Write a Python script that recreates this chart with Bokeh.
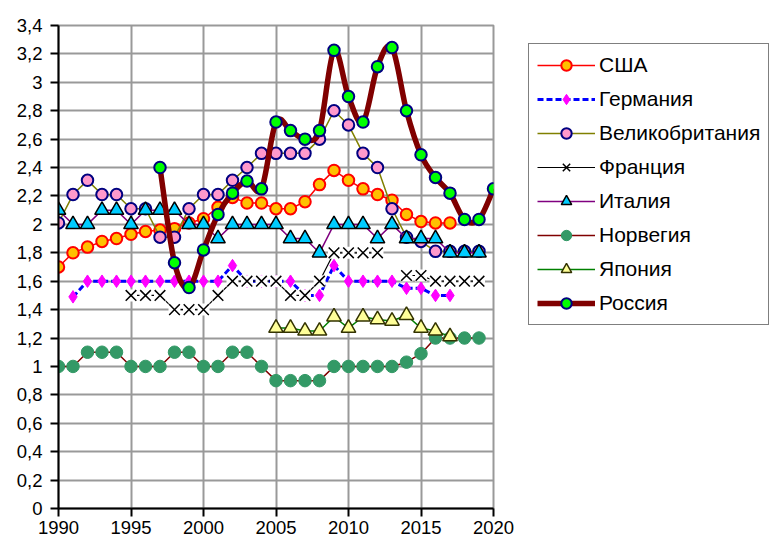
import numpy as np
from bokeh.plotting import figure
from bokeh.models import (Legend, LegendItem, FixedTicker, CustomJSTickFormatter,
                          Range1d, ColumnDataSource)
from bokeh.embed import file_html
from bokeh.resources import INLINE

nan = float("nan")

years = [1990, 1991, 1992, 1993, 1994, 1995, 1996, 1997, 1998, 1999,
         2000, 2001, 2002, 2003, 2004, 2005, 2006, 2007, 2008, 2009,
         2010, 2011, 2012, 2013, 2014, 2015, 2016, 2017, 2018, 2019, 2020]

x_ticks = [1990, 1995, 2000, 2005, 2010, 2015, 2020]
y_ticks = [0, 0.2, 0.4, 0.6, 0.8, 1.0, 1.2, 1.4, 1.6, 1.8, 2.0,
           2.2, 2.4, 2.6, 2.8, 3.0, 3.2, 3.4]

usa = [1.70, 1.80, 1.84, 1.88, 1.90, 1.93, 1.95, 1.96, 1.97, 2.01,
       2.04, 2.12, 2.19, 2.15, 2.15, 2.11, 2.11, 2.16, 2.28, 2.38,
       2.31, 2.25, 2.21, 2.17, 2.07, 2.02, 2.01, 2.01, nan, nan, nan]

germany = [nan, 1.49, 1.60, 1.60, 1.60, 1.60, 1.60, 1.60, 1.60, 1.60,
           1.60, 1.60, 1.71, 1.60, 1.60, 1.60, 1.60, 1.50, 1.50, 1.71,
           1.60, 1.60, 1.60, 1.60, 1.55, 1.55, 1.50, 1.50, nan, nan, nan]

uk = [2.01, 2.21, 2.31, 2.21, 2.21, 2.11, 2.11, 1.91, 1.91, 2.11,
      2.21, 2.21, 2.31, 2.40, 2.50, 2.50, 2.50, 2.50, 2.60, 2.80,
      2.70, 2.50, 2.40, 2.11, 1.91, 1.88, 1.81, 1.81, 1.81, 1.81, nan]

france = [nan, nan, nan, nan, nan, 1.50, 1.50, 1.50, 1.40, 1.40,
          1.40, 1.50, 1.60, 1.60, 1.60, 1.60, 1.50, 1.50, 1.60, 1.80,
          1.80, 1.80, 1.80, nan, 1.64, 1.64, 1.60, 1.60, 1.60, 1.60, nan]

italy = [2.10, 2.00, 2.00, 2.10, 2.10, 2.00, 2.10, 2.10, 2.10, 2.00,
         2.00, 1.90, 2.00, 2.00, 2.00, 2.00, 1.90, 1.90, 1.80, 2.00,
         2.00, 2.00, 1.90, 2.00, 1.90, 1.90, 1.90, 1.80, 1.80, 1.80, nan]

norway = [1.00, 1.00, 1.10, 1.10, 1.10, 1.00, 1.00, 1.00, 1.10, 1.10,
          1.00, 1.00, 1.10, 1.10, 1.00, 0.90, 0.90, 0.90, 0.90, 1.00,
          1.00, 1.00, 1.00, 1.00, 1.03, 1.09, 1.20, 1.20, 1.20, 1.20, nan]

japan = [nan, nan, nan, nan, nan, nan, nan, nan, nan, nan,
         nan, nan, nan, nan, nan, 1.27, 1.27, 1.25, 1.25, 1.35,
         1.27, 1.35, 1.33, 1.32, 1.36, 1.27, 1.25, 1.21, nan, nan, nan]

russia = [nan, nan, nan, nan, nan, nan, nan, 2.40, 1.73, 1.555,
          1.82, 2.07, 2.22, 2.305, 2.25, 2.72, 2.66, 2.60, 2.66, 3.225,
          2.90, 2.72, 3.11, 3.245, 2.80, 2.49, 2.33, 2.22, 2.035, 2.035, 2.25]

labels = ["США", "Германия", "Великобритания", "Франция", "Италия",
          "Норвегия", "Япония", "Россия"]

FONT = "Liberation Sans"

p = figure(frame_width=435, frame_height=483,
           min_border_left=58, min_border_right=270, min_border_top=25, min_border_bottom=34,
           output_backend="svg", toolbar_location=None,
           x_range=Range1d(1990, 2020), y_range=Range1d(0, 3.4))
p.background_fill_color = "white"
p.border_fill_color = "white"
p.outline_line_color = "#999999"
p.outline_line_width = 2

p.xaxis.ticker = FixedTicker(ticks=x_ticks)
p.yaxis.ticker = FixedTicker(ticks=y_ticks)
p.yaxis.formatter = CustomJSTickFormatter(
    code="return tick.toFixed(1).replace('.', ',').replace(/,0$/, '');")
for ax in (p.xaxis[0], p.yaxis[0]):
    ax.axis_line_color = "black"
    ax.axis_line_width = 2
    ax.major_tick_line_color = "black"
    ax.major_tick_line_width = 2
    ax.major_tick_in = 0
    ax.major_tick_out = 8
    ax.minor_tick_line_color = None
    ax.major_label_text_font = FONT
    ax.major_label_text_font_size = "18.5px"
    ax.major_label_text_color = "black"
p.xaxis.major_label_standoff = 4
p.yaxis.major_label_standoff = 8

p.xgrid.grid_line_color = "#999999"
p.ygrid.grid_line_color = "#999999"
p.xgrid.grid_line_width = 2
p.ygrid.grid_line_width = 2

x = np.array(years, dtype=float)

def src(vals):
    return ColumnDataSource(dict(x=x, y=np.array(vals, dtype=float)))

items = []

# USA
s = src(usa)
l = p.line("x", "y", source=s, line_color="#FF0000", line_width=1.5)
m = p.scatter("x", "y", source=s, marker="circle", size=11.5, fill_color="#FFC000",
              line_color="#FF0000", line_width=2)
items.append(LegendItem(label=labels[0], renderers=[l, m]))

# Germany
s = src(germany)
l = p.line("x", "y", source=s, line_color="#0000FF", line_width=3, line_dash="6 3")
m = p.scatter("x", "y", source=s, marker="diamond", size=12.5,
              fill_color="#FF00FF", line_color="#FF00FF", line_width=1)
items.append(LegendItem(label=labels[1], renderers=[l, m]))

# UK
s = src(uk)
l = p.line("x", "y", source=s, line_color="#808000", line_width=1.5)
m = p.scatter("x", "y", source=s, marker="circle", size=11.5, fill_color="#FF99CC",
              line_color="#000080", line_width=2)
items.append(LegendItem(label=labels[2], renderers=[l, m]))

# France
s = src(france)
l = p.line("x", "y", source=s, line_color="black", line_width=1.2)
bg = p.scatter("x", "y", source=s, marker="square", size=12, fill_color="white",
               line_color=None)
m = p.scatter("x", "y", source=s, marker="x", size=15, line_color="black", line_width=1.5)
items.append(LegendItem(label=labels[3], renderers=[l, m]))

# Italy
s = src(italy)
l = p.line("x", "y", source=s, line_color="#800080", line_width=1.5)
m = p.scatter("x", "y", source=s, marker="triangle", size=14.5, fill_color="#00CCFF",
              line_color="black", line_width=1.5)
items.append(LegendItem(label=labels[4], renderers=[l, m]))

# Norway
s = src(norway)
l = p.line("x", "y", source=s, line_color="#800000", line_width=1.5)
m = p.scatter("x", "y", source=s, marker="circle", size=12.5, fill_color="#339966",
              line_color="#339966", line_width=1)
items.append(LegendItem(label=labels[5], renderers=[l, m]))

# Japan
s = src(japan)
l = p.line("x", "y", source=s, line_color="#008000", line_width=1.5)
m = p.scatter("x", "y", source=s, marker="triangle", size=14.5, fill_color="#FFFF99",
              line_color="#333300", line_width=1.5)
items.append(LegendItem(label=labels[6], renderers=[l, m]))

# Russia: smoothed (Bezier) line through the data points
r = np.array(russia, dtype=float)
x0, y0, x1, y1, cx0, cy0, cx1, cy1 = [], [], [], [], [], [], [], []
n = len(r)
for i in range(n - 1):
    if np.isnan(r[i]) or np.isnan(r[i + 1]):
        continue
    ip = i - 1 if i - 1 >= 0 and not np.isnan(r[i - 1]) else i
    inx = i + 2 if i + 2 < n and not np.isnan(r[i + 2]) else i + 1
    x0.append(x[i]); y0.append(r[i]); x1.append(x[i + 1]); y1.append(r[i + 1])
    cx0.append(x[i] + (x[i + 1] - x[ip]) / 6.0)
    cy0.append(r[i] + (r[i + 1] - r[ip]) / 6.0)
    cx1.append(x[i + 1] - (x[inx] - x[i]) / 6.0)
    cy1.append(r[i + 1] - (r[inx] - r[i]) / 6.0)
bs = ColumnDataSource(dict(x0=x0, y0=y0, x1=x1, y1=y1, cx0=cx0, cy0=cy0, cx1=cx1, cy1=cy1))
l = p.bezier(x0="x0", y0="y0", x1="x1", y1="y1", cx0="cx0", cy0="cy0", cx1="cx1", cy1="cy1",
             source=bs, line_color="#800000", line_width=5.5)
s = src(russia)
m = p.scatter("x", "y", source=s, marker="circle", size=11.5, fill_color="#00FF00",
              line_color="#000080", line_width=2)
items.append(LegendItem(label=labels[7], renderers=[l, m]))

legend = Legend(items=items, location=(35, 183))
legend.label_text_font = FONT
legend.label_text_font_size = "21px"
legend.label_text_color = "black"
legend.label_height = 26
legend.glyph_height = 26
legend.glyph_width = 58
legend.label_standoff = 4
legend.spacing = 8
legend.padding = 8
legend.margin = 0
legend.border_line_color = "black"
legend.border_line_width = 1.5
legend.background_fill_color = "white"
legend.background_fill_alpha = 1
p.add_layout(legend, "right")

open("out.html", "w").write(file_html(p, INLINE))
